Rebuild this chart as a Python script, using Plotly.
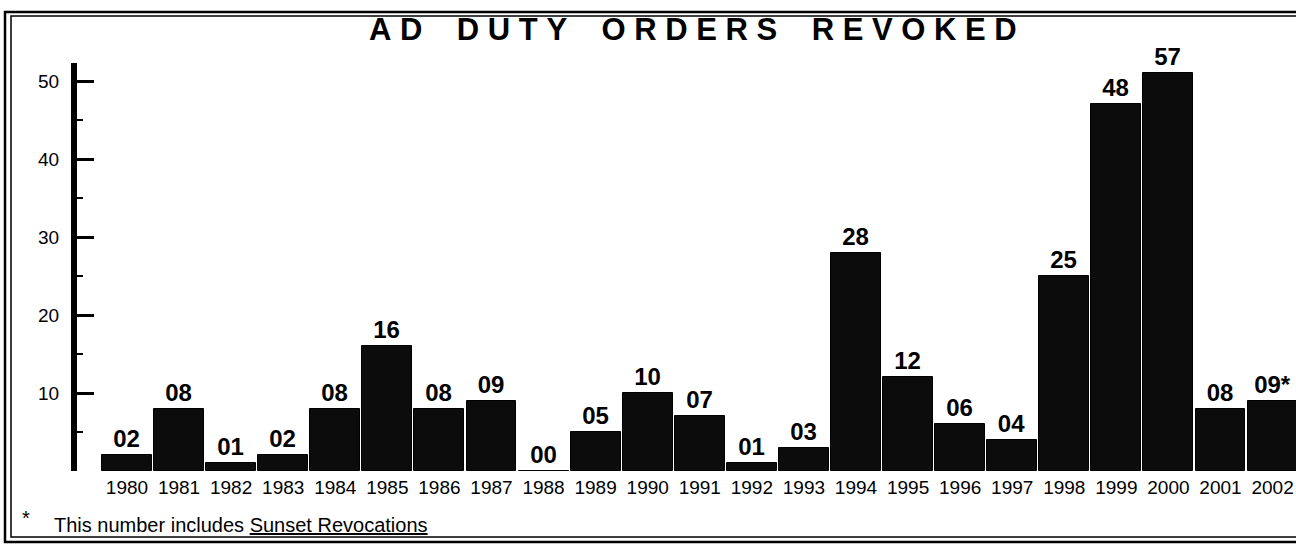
import plotly.graph_objects as go

# ---------------- data ----------------
years = list(range(1980, 2003))
bar_heights = [2, 8, 1, 2, 8, 16, 8, 9, 0, 5, 10, 7, 1, 3, 28, 12, 6, 4, 25, 47, 51, 8, 9]
bar_labels = ["02", "08", "01", "02", "08", "16", "08", "09", "00", "05", "10", "07",
              "01", "03", "28", "12", "06", "04", "25", "48", "57", "08", "09*"]
year_labels = [str(y) for y in years]
y_tick_values = [10, 20, 30, 40, 50]
title_text = "AD DUTY ORDERS REVOKED"
footnote_mark = "*"
footnote_text = "This number includes <u>Sunset Revocations</u>"

# ---------------- layout helpers ----------------
W, H = 1296, 548
L, R, T, B = 77, 0, 63, 77
PW, PH = W - L - R, H - T - B
FONT = "Liberation Sans, Arial, sans-serif"


def px(x):
    """screen pixel x -> paper x"""
    return (x - L) / PW


def py(y):
    """screen pixel y -> paper y"""
    return (H - B - y) / PH


NB = "\u00a0"
spaced_title = (NB * 4).join(NB.join(word) for word in title_text.split(" "))

fig = go.Figure(
    go.Bar(
        x=years,
        y=bar_heights,
        width=0.96,
        marker=dict(color="#0c0c0c", line=dict(color="#000000", width=1)),
        text=bar_labels,
        textposition="outside",
        constraintext="none",
        textfont=dict(family=FONT, size=24, color="#000000", weight="bold"),
        cliponaxis=False,
        hoverinfo="skip",
    )
)

fig.update_layout(
    width=W,
    height=H,
    margin=dict(l=L, r=R, t=T, b=B, pad=0),
    paper_bgcolor="white",
    plot_bgcolor="white",
    showlegend=False,
    font=dict(family=FONT, color="#000000"),
    bargap=0,
)

fig.update_xaxes(
    range=[1979.04, 2002.45],
    tickvals=years,
    ticktext=year_labels,
    tickfont=dict(family=FONT, size=19, color="#000000"),
    showline=False,
    showgrid=False,
    zeroline=False,
    ticks="",
    ticklabelstandoff=3,
    fixedrange=True,
)

fig.update_yaxes(
    range=[0, PH / 7.8],
    tickvals=y_tick_values,
    tickfont=dict(family=FONT, size=19, color="#000000"),
    showline=True,
    linewidth=6,
    linecolor="#000000",
    ticks="inside",
    ticklen=17,
    tickwidth=3,
    tickcolor="#000000",
    minor=dict(ticks="inside", ticklen=6, tickwidth=2, dtick=5, tick0=0, tickcolor="#000000"),
    ticklabelstandoff=8,
    showgrid=False,
    zeroline=False,
    fixedrange=True,
)

# title
fig.add_annotation(
    text="<b>" + spaced_title + "</b>",
    xref="paper", yref="paper",
    x=px(693), y=py(29),
    xanchor="center", yanchor="middle",
    showarrow=False,
    font=dict(family=FONT, size=31, color="#000000"),
)

# footnote
fig.add_annotation(
    text=footnote_mark,
    xref="paper", yref="paper",
    x=px(26), y=py(518),
    xanchor="center", yanchor="middle",
    showarrow=False,
    font=dict(family=FONT, size=20, color="#000000"),
)
fig.add_annotation(
    text=footnote_text,
    xref="paper", yref="paper",
    x=px(52), y=py(525),
    xanchor="left", yanchor="middle",
    showarrow=False,
    font=dict(family=FONT, size=20, color="#000000"),
)

# double frame around the page
fig.add_shape(type="rect", xref="paper", yref="paper",
              x0=px(5), x1=px(1310), y0=py(542), y1=py(12),
              line=dict(color="#000000", width=2.5), fillcolor="rgba(0,0,0,0)", layer="above")
fig.add_shape(type="rect", xref="paper", yref="paper",
              x0=px(11), x1=px(1310), y0=py(537), y1=py(16),
              line=dict(color="#000000", width=1.5), fillcolor="rgba(0,0,0,0)", layer="above")

fig.write_html(
    "out.html",
    config={"displayModeBar": False},
    post_script="document.body.style.margin='0px';document.body.style.overflow='hidden';",
)
